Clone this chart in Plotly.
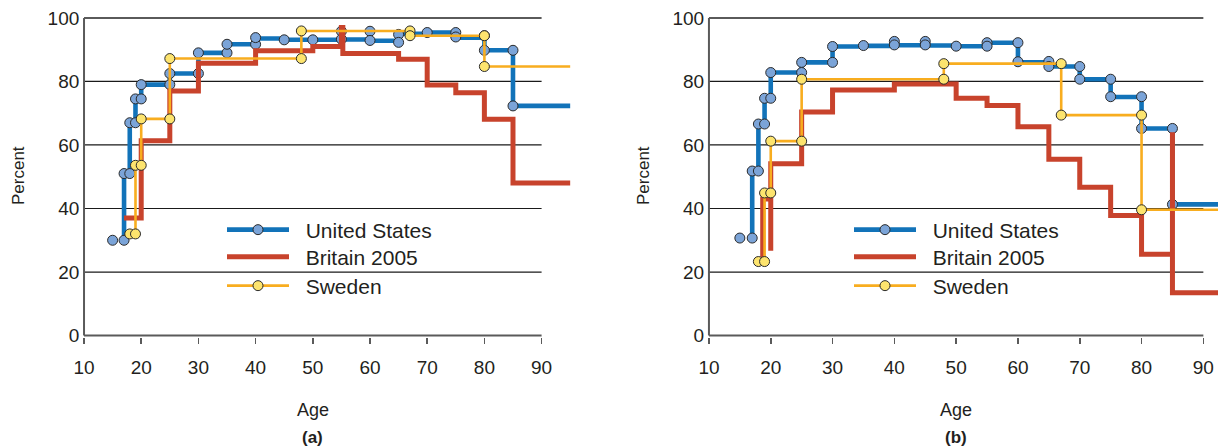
import plotly.graph_objects as go

# ---------------- Panel (a) ----------------
# United States: step line (hv vertices) and marker points
us_a_line_age = [17, 17, 18, 19, 20, 25, 30, 35, 40, 45, 50, 55, 60, 65, 70, 75, 80, 85, 95]
us_a_line_val = [30, 51, 67, 74.5, 79, 82.5, 89, 91.7, 93.5, 93.1, 93.1, 93.2, 92.8, 95, 95.4, 93.8, 89.8, 72.3, 72.3]
us_a_mark_age = [15, 17, 17, 18, 18, 19, 19, 20, 20, 25, 25, 30, 30, 35, 35, 40, 40, 45, 50,
                 55, 55, 60, 60, 65, 65, 70, 75, 75, 80, 80, 85, 85]
us_a_mark_val = [30, 30, 51, 51, 67, 67, 74.5, 74.5, 79, 79, 82.5, 82.5, 89, 89, 91.7, 91.7, 93.8, 93.1, 93.1,
                 95.8, 93.3, 95.8, 92.9, 94.8, 92.3, 95.4, 95.4, 94, 94.4, 89.8, 89.8, 72.3]
# Britain 2005 (step vertices)
br_a_age = [17, 20, 25, 30, 40, 50, 55, 55.25, 65, 70, 75, 80, 85, 95]
br_a_val = [37, 61.3, 77, 85.7, 89.7, 91, 97, 88.8, 87, 78.9, 76.4, 68.1, 48, 48]
# Sweden (step vertices)
sw_a_age = [18, 19, 20, 25, 48, 67, 80, 95]
sw_a_val = [32, 53.6, 68.2, 87.2, 95.9, 94.4, 84.7, 84.7]

# ---------------- Panel (b) ----------------
us_b_line_age = [17, 17, 18, 19, 20, 25, 30, 35, 40, 45, 50, 55, 60, 65, 70, 75, 80, 85, 95]
us_b_line_val = [30.7, 51.8, 66.6, 74.7, 82.8, 86, 91, 91.2, 91.4, 91.3, 91.1, 92.2, 86, 84.7, 80.7, 75.1, 65.2, 41.3, 41.3]
us_b_mark_age = [15, 17, 17, 18, 18, 19, 19, 20, 20, 25, 25, 30, 30, 35, 40, 40, 45, 45, 50,
                 55, 55, 60, 60, 65, 65, 70, 70, 75, 75, 80, 80, 85, 85]
us_b_mark_val = [30.7, 30.7, 51.8, 51.8, 66.6, 66.6, 74.7, 74.7, 82.8, 82.8, 86, 86, 91, 91.3, 92.6, 91.5, 92.6, 91.5, 91.1,
                 92.2, 91.1, 92.2, 86.2, 86.3, 84.7, 84.7, 80.7, 80.7, 75.2, 75.2, 65.2, 65.2, 41.3]
br_b_age = [18.7, 18.7, 20, 20, 25, 30, 40, 50, 55, 60, 65, 70, 75, 80, 85, 85, 95]
br_b_val = [24, 43, 26.7, 54.1, 70.4, 77.3, 79.2, 74.7, 72.4, 65.7, 55.5, 46.7, 37.8, 25.6, 64, 13.5, 13.5]
sw_b_age = [18, 19, 20, 25, 48, 67, 80, 95]
sw_b_val = [23.3, 44.9, 61.2, 80.7, 85.6, 69.4, 39.6, 39.6]

x_ticks = [10, 20, 30, 40, 50, 60, 70, 80, 90]
y_ticks = [0, 20, 40, 60, 80, 100]
series_names = ["United States", "Britain 2005", "Sweden"]
panel_labels = ["(a)", "(b)"]

BLUE = "#1273b9"
BLUE_FILL = "#7ba4d8"
RED = "#c8432c"
YEL = "#f8ad1f"
YEL_FILL = "#fde46e"
EDGE = "#2b2b2b"
TXT = "#231f20"
FONT = "Liberation Sans, Arial, sans-serif"

# the page's body margin is removed (post_script below), so the figure fills the window
W, H = 1218, 448
T, B = 16, 111
PH = H - T - B


def px(page_x):
    return page_x / W


def py(page_y):
    return (H - B - page_y) / PH


def corners(ages, vals):
    xs, ys = [], []
    for i in range(len(ages) - 1):
        xs += [ages[i], ages[i + 1]]
        ys += [vals[i], vals[i]]
    return xs[:-1], ys[:-1]


panels = [
    dict(xa="x", ya="y", legs=["legend", "legend2", "legend3"], leg_x=222,
         us_line=(us_a_line_age, us_a_line_val), us_mark=(us_a_mark_age, us_a_mark_val),
         br=(br_a_age, br_a_val), sw=(sw_a_age, sw_a_val)),
    dict(xa="x2", ya="y2", legs=["legend4", "legend5", "legend6"], leg_x=849,
         us_line=(us_b_line_age, us_b_line_val), us_mark=(us_b_mark_age, us_b_mark_val),
         br=(br_b_age, br_b_val), sw=(sw_b_age, sw_b_val)),
]

fig = go.Figure()
US_W, BR_W, SW_W, MS = 4.6, 5, 2.6, 10
NB = "\u00a0\u00a0"

for p in panels:
    common = dict(xaxis=p["xa"], yaxis=p["ya"], showlegend=False, hoverinfo="skip")
    fig.add_trace(go.Scatter(x=p["us_line"][0], y=p["us_line"][1], mode="lines",
                             line=dict(color=BLUE, width=US_W, shape="hv"), **common))
    fig.add_trace(go.Scatter(x=p["us_mark"][0], y=p["us_mark"][1], mode="markers",
                             marker=dict(size=MS, color=BLUE_FILL, line=dict(color=EDGE, width=1)), **common))
    fig.add_trace(go.Scatter(x=p["br"][0], y=p["br"][1], mode="lines",
                             line=dict(color=RED, width=BR_W, shape="hv"), **common))
    fig.add_trace(go.Scatter(x=p["sw"][0], y=p["sw"][1], mode="lines",
                             line=dict(color=YEL, width=SW_W, shape="hv"), **common))
    cx, cy = corners(*p["sw"])
    fig.add_trace(go.Scatter(x=cx, y=cy, mode="markers",
                             marker=dict(size=MS, color=YEL_FILL, line=dict(color=EDGE, width=1)), **common))
    # legend entries (one legend per row for exact spacing)
    lc = dict(x=[None], y=[None], xaxis=p["xa"], yaxis=p["ya"], hoverinfo="skip")
    fig.add_trace(go.Scatter(name=NB + series_names[0], mode="lines+markers", legend=p["legs"][0],
                             line=dict(color=BLUE, width=US_W),
                             marker=dict(size=MS, color=BLUE_FILL, line=dict(color=EDGE, width=1)), **lc))
    fig.add_trace(go.Scatter(name=NB + series_names[1], mode="lines", legend=p["legs"][1],
                             line=dict(color=RED, width=BR_W), **lc))
    fig.add_trace(go.Scatter(name=NB + series_names[2], mode="lines+markers", legend=p["legs"][2],
                             line=dict(color=YEL, width=SW_W),
                             marker=dict(size=MS, color=YEL_FILL, line=dict(color=EDGE, width=1)), **lc))

# frame lines / gridlines
shapes = []
for xa, ya in (("x", "y"), ("x2", "y2")):
    for v in (20, 40, 60, 80):
        shapes.append(dict(type="line", xref=xa, yref=ya, x0=10, x1=90, y0=v, y1=v,
                           line=dict(color="#1a1a1a", width=1.2), layer="below"))
    for v in (0, 100):
        shapes.append(dict(type="line", xref=xa, yref=ya, x0=10, x1=90, y0=v, y1=v,
                           line=dict(color="#5a5a5a", width=2), layer="below"))
    shapes.append(dict(type="line", xref=xa, yref=ya, x0=10, x1=10, y0=0, y1=100,
                       line=dict(color="#5a5a5a", width=2), layer="below"))

xcommon = dict(tickvals=x_ticks, ticks="outside", ticklen=6, tickwidth=1.5, tickcolor="#5a5a5a",
               showgrid=False, zeroline=False, showline=False, ticklabelstandoff=7,
               automargin=False, ticklabeloverflow="allow",
               tickfont=dict(size=19, color=TXT, family=FONT))
ycommon = dict(tickvals=y_ticks, range=[-0.45, 100.6], ticks="", showgrid=False, zeroline=False,
               showline=False, ticklabelstandoff=2, automargin=False, ticklabeloverflow="allow",
               tickfont=dict(size=19, color=TXT, family=FONT))

legends = {}
row_y = [230, 257, 286]
for p in panels:
    for k, name in enumerate(p["legs"]):
        legends[name] = dict(x=px(p["leg_x"]), y=py(row_y[k]), xanchor="left", yanchor="middle",
                             font=dict(size=21, color=TXT, family=FONT), bgcolor="rgba(0,0,0,0)",
                             itemwidth=62)

annotations = []
for xa, lab, px_title in (("x", panel_labels[0], 18), ("x2", panel_labels[1], 643)):
    annotations.append(dict(text="Age", xref=xa, x=50, yref="paper", y=py(410), showarrow=False,
                            xanchor="center", yanchor="middle", font=dict(size=18, color=TXT, family=FONT)))
    annotations.append(dict(text="<b>" + lab + "</b>", xref=xa, x=50, yref="paper", y=py(437), showarrow=False,
                            xanchor="center", yanchor="middle", font=dict(size=17, color=TXT, family=FONT)))
    annotations.append(dict(text="Percent", xref="paper", x=px(px_title), yref="paper", y=py(176),
                            showarrow=False, textangle=-90, xanchor="center", yanchor="middle",
                            font=dict(size=17, color=TXT, family=FONT)))

fig.update_layout(
    width=W, height=H, margin=dict(l=0, r=0, t=T, b=B, autoexpand=False),
    paper_bgcolor="white", plot_bgcolor="white",
    font=dict(family=FONT, color=TXT),
    xaxis=dict(domain=[px(82.3), px(571.9)], range=[9.7, 95.3], anchor="y", **xcommon),
    yaxis=dict(domain=[0, 1], anchor="x", **ycommon),
    xaxis2=dict(domain=[px(707.1), 1.0], range=[9.7, 92.37], anchor="y2", **xcommon),
    yaxis2=dict(domain=[0, 1], anchor="x2", **ycommon),
    shapes=shapes,
    annotations=annotations,
    hovermode=False,
    **legends,
)

fig.write_html("out.html", config={"displayModeBar": False, "staticPlot": True},
               post_script="document.body.style.margin='0px';document.body.style.overflow='hidden';")
